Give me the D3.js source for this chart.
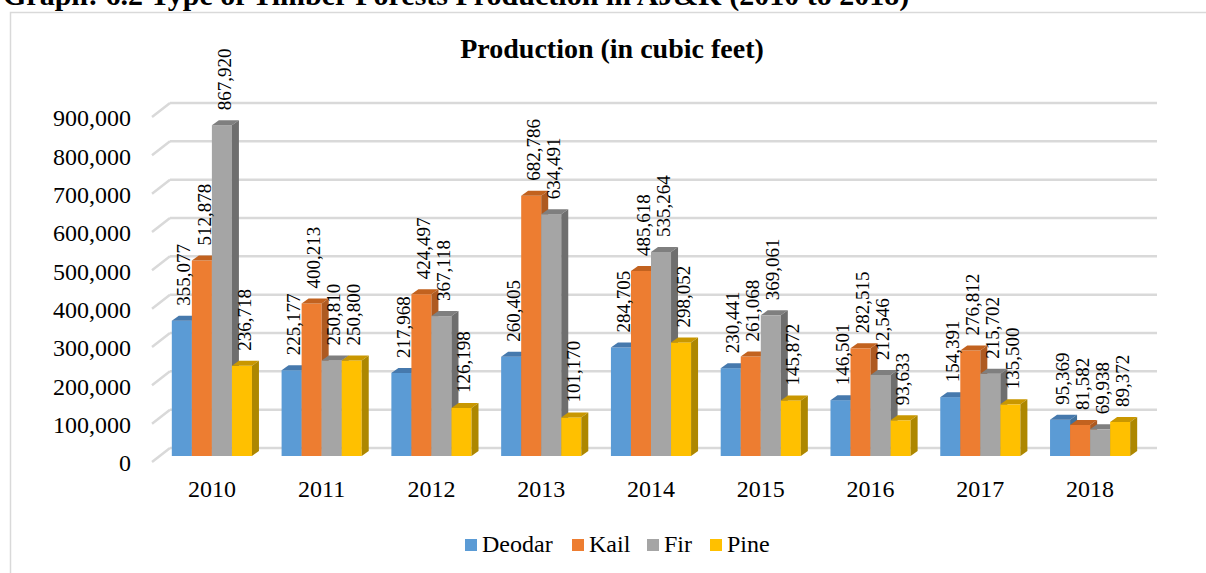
<!DOCTYPE html>
<html>
<head>
<meta charset="utf-8">
<script src="https://cdn.jsdelivr.net/npm/d3@7"></script>
<style>
  body { margin: 0; background: #fff; }
  svg { display: block; font-family: "Liberation Serif", "Times New Roman", serif; }
</style>
</head>
<body>
<script>
/* chart data */
var years = ["2010", "2011", "2012", "2013", "2014", "2015", "2016", "2017", "2018"]
var seriesNames = ["Deodar", "Kail", "Fir", "Pine"]
var deodar = [355077, 225177, 217968, 260405, 284705, 230441, 146501, 154391, 95369]
var kail = [512878, 400213, 424497, 682786, 485618, 261068, 282515, 276812, 81582]
var fir = [867920, 250810, 367118, 634491, 535264, 369061, 212546, 215702, 69938]
var pine = [236718, 250800, 126198, 101170, 298052, 145872, 93633, 135500, 89372]
var yTicks = [0, 100000, 200000, 300000, 400000, 500000, 600000, 700000, 800000, 900000]

var colors = ["#5b9bd5", "#ed7d31", "#a5a5a5", "#ffc000"]
var sideColors = ["#41719c", "#ae5a21", "#6e6e6e", "#ad8700"]
var topColors = ["#4679ad", "#c2621f", "#7f7f7f", "#c99700"]

var width = 1206, height = 573
var depthX = 7, depthY = -5   // little 3d offset of each bar

var svg = d3.select("body").append("svg")
    .attr("width", width)
    .attr("height", height)

/* the page heading, cut off at the top */
svg.append("text")
    .attr("x", 3)
    .attr("y", 5)
    .attr("font-weight", "bold")
    .attr("font-size", "30px")
    .text("Graph: 6.2 Type of Timber Forests Production in AJ&K (2010 to 2018)")

/* chart area border */
svg.append("rect")
    .attr("x", 10.5)
    .attr("y", 12.5)
    .attr("width", 1220)
    .attr("height", 600)
    .attr("fill", "none")
    .attr("stroke", "#d9d9d9")
    .attr("stroke-width", 1.5)

svg.append("text")
    .attr("x", 612)
    .attr("y", 58)
    .attr("text-anchor", "middle")
    .attr("font-weight", "bold")
    .attr("font-size", "28px")
    .text("Production (in cubic feet)")

/* scales: back wall for the grid, bar plane a bit in front of it */
var yBack = d3.scaleLinear().domain([0, 900000]).range([448, 103])
var yBar = d3.scaleLinear().domain([0, 900000]).range([456, 113])
var x0 = d3.scaleBand().domain(years).range([157, 1145]).paddingInner(0.27).paddingOuter(0.135)
var x1 = d3.scaleBand().domain(seriesNames).range([0, x0.bandwidth()])

/* grid lines with the short diagonal floor edges */
var grid = svg.append("g")
grid.selectAll("line.back")
    .data(yTicks)
    .enter()
    .append("line")
    .attr("x1", 170)
    .attr("x2", 1157)
    .attr("y1", function(d) { return yBack(d) })
    .attr("y2", function(d) { return yBack(d) })
    .attr("stroke", "#d9d9d9")
    .attr("stroke-width", 2.5)
grid.selectAll("line.diag")
    .data(yTicks)
    .enter()
    .append("line")
    .attr("x1", 152)
    .attr("x2", 170)
    .attr("y1", function(d) { return yBack(d) + 14 })
    .attr("y2", function(d) { return yBack(d) })
    .attr("stroke", "#d9d9d9")
    .attr("stroke-width", 2.5)

/* y axis labels */
var fmt = d3.format(",")
svg.append("g").selectAll("text")
    .data(yTicks)
    .enter()
    .append("text")
    .attr("x", 131)
    .attr("y", function(d) { return yBack(d) + 15 })
    .attr("dy", "0.35em")
    .attr("text-anchor", "end")
    .attr("font-size", "24px")
    .text(function(d) { return fmt(d) })

/* x axis labels */
svg.append("g").selectAll("text")
    .data(years)
    .enter()
    .append("text")
    .attr("x", function(d) { return x0(d) + x0.bandwidth() / 2 })
    .attr("y", 497)
    .attr("text-anchor", "middle")
    .attr("font-size", "24px")
    .text(function(d) { return d })

/* bars */
var allSeries = [deodar, kail, fir, pine]
var rows = []
years.forEach(function(yr, i) {
    allSeries.forEach(function(s, k) {
        rows.push({ year: yr, series: seriesNames[k], k: k, value: s[i] })
    })
})

var bars = svg.append("g").selectAll("g")
    .data(rows)
    .enter()
    .append("g")

function barX(d) { return x0(d.year) + x1(d.series) }

bars.append("rect")
    .attr("x", barX)
    .attr("y", function(d) { return yBar(d.value) })
    .attr("width", x1.bandwidth())
    .attr("height", function(d) { return yBar(0) - yBar(d.value) })
    .attr("fill", function(d) { return colors[d.k] })

bars.append("path")
    .attr("d", function(d) {
        var x = barX(d), w = x1.bandwidth(), y = yBar(d.value)
        return "M" + x + "," + y + "L" + (x + w) + "," + y +
            "L" + (x + w + depthX) + "," + (y + depthY) +
            "L" + (x + depthX) + "," + (y + depthY) + "Z"
    })
    .attr("fill", function(d) { return topColors[d.k] })

bars.append("path")
    .attr("d", function(d) {
        var x = barX(d) + x1.bandwidth(), y = yBar(d.value), y0 = yBar(0)
        return "M" + x + "," + y + "L" + (x + depthX) + "," + (y + depthY) +
            "L" + (x + depthX) + "," + (y0 + depthY) +
            "L" + x + "," + y0 + "Z"
    })
    .attr("fill", function(d) { return sideColors[d.k] })

/* value labels, rotated */
svg.append("g").selectAll("text")
    .data(rows)
    .enter()
    .append("text")
    .attr("transform", function(d) {
        var cx = barX(d) + x1.bandwidth() / 2 + 2
        var cy = yBar(d.value) - 15
        return "translate(" + cx + "," + cy + ") rotate(-90)"
    })
    .attr("dy", "0.35em")
    .attr("font-size", "19px")
    .text(function(d) { return fmt(d.value) })

/* legend */
var legendX = [465, 572, 647, 710]
var legend = svg.append("g").selectAll("g")
    .data(seriesNames)
    .enter()
    .append("g")
    .attr("transform", function(d, i) { return "translate(" + legendX[i] + ",539)" })
legend.append("rect")
    .attr("width", 12)
    .attr("height", 12)
    .attr("fill", function(d, i) { return colors[i] })
legend.append("text")
    .attr("x", 17)
    .attr("y", 13)
    .attr("font-size", "24px")
    .text(function(d) { return d })
</script>
</body>
</html>
